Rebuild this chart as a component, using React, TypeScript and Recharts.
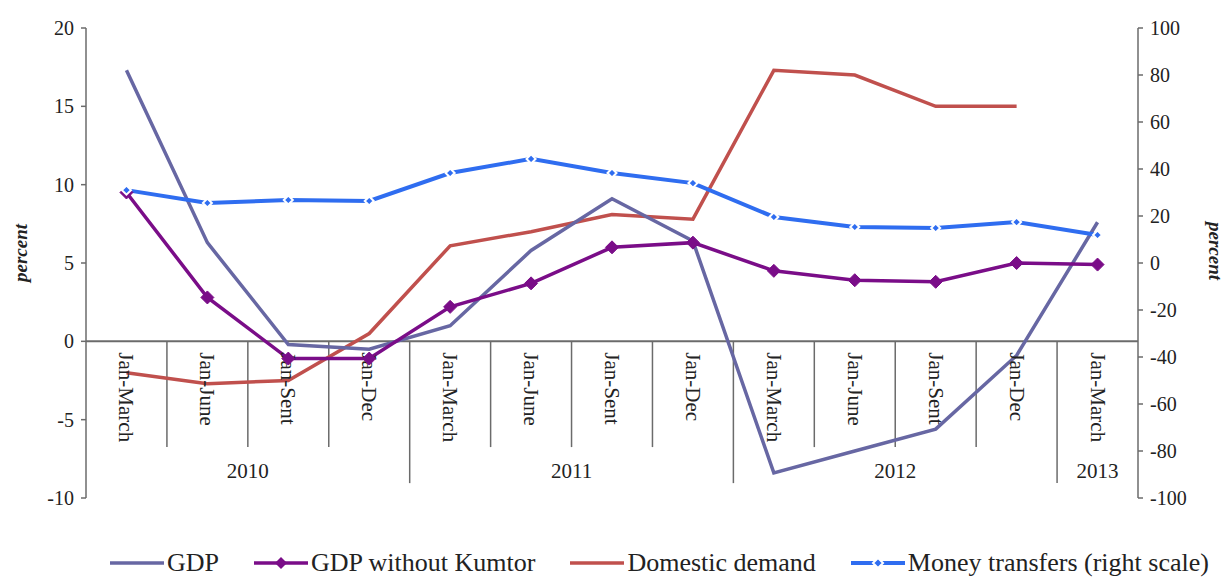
import React from "react";
import { LineChart, Line, XAxis, YAxis, ReferenceLine, ReferenceDot } from "recharts";

const periods = [
  "Jan-March", "Jan-June", "Jan-Sent", "Jan-Dec",
  "Jan-March", "Jan-June", "Jan-Sent", "Jan-Dec",
  "Jan-March", "Jan-June", "Jan-Sent", "Jan-Dec",
  "Jan-March",
];
const years = ["2010", "2011", "2012", "2013"];
const periodsPerYear = [4, 4, 4, 1];

const gdp = [17.3, 6.3, -0.2, -0.5, 1.0, 5.8, 9.1, 6.4, -8.4, -7.0, -5.6, -0.9, 7.6];
const gdpNoKumtor = [9.5, 2.8, -1.1, -1.1, 2.2, 3.7, 6.0, 6.3, 4.5, 3.9, 3.8, 5.0, 4.9];
const domesticDemand = [-2.0, -2.7, -2.5, 0.5, 6.1, 7.0, 8.1, 7.8, 17.3, 17.0, 15.0, 15.0, null];
const moneyTransfers = [31.0, 25.5, 26.8, 26.4, 38.3, 44.3, 38.3, 34.0, 19.6, 15.3, 14.9, 17.4, 11.9];

const leftTicks = [-10, -5, 0, 5, 10, 15, 20];
const rightTicks = [-100, -80, -60, -40, -20, 0, 20, 40, 60, 80, 100];

const rows = periods.map((p, i) => ({
  i,
  period: p,
  gdp: gdp[i],
  gdpNoKumtor: gdpNoKumtor[i],
  domestic: domesticDemand[i],
  money: moneyTransfers[i],
}));

const FONT = '"Liberation Serif", "Times New Roman", serif';
const AXIS = "#6b6b6b";
const C_GDP = "#6767a3";
const C_KUM = "#7a0d88";
const C_DOM = "#c0504d";
const C_MON = "#2f6df0";

// boundaries between periods, long ones where a year ends
const boundaries: { x: number; long: boolean }[] = [];
{
  const ends = new Set<number>();
  let acc = 0;
  periodsPerYear.forEach((n) => {
    acc += n;
    ends.add(acc);
  });
  for (let k = 1; k < periods.length; k++) boundaries.push({ x: k - 0.5, long: ends.has(k) });
}
const yearCenters: number[] = [];
{
  let start = 0;
  periodsPerYear.forEach((n) => {
    yearCenters.push(start + (n - 1) / 2);
    start += n;
  });
}

function catLabel(props: any) {
  const vb = props.viewBox || {};
  const cx = vb.x + (vb.width || 0) / 2;
  const cy = vb.y + (vb.height || 0) / 2;
  return (
    <text
      transform={`translate(${cx},${cy + 11}) rotate(90)`}
      dominantBaseline="central"
      textAnchor="start"
      fontFamily={FONT}
      fontSize={21}
      fill="#222"
    >
      {props.value}
    </text>
  );
}

function yearLabel(props: any) {
  const vb = props.viewBox || {};
  const cx = vb.x + (vb.width || 0) / 2;
  const cy = vb.y + (vb.height || 0) / 2;
  return (
    <text x={cx} y={cy} textAnchor="middle" dominantBaseline="central" fontFamily={FONT} fontSize={21} fill="#222">
      {props.value}
    </text>
  );
}

function percentLeft(props: any) {
  const vb = props.viewBox || {};
  const x = vb.x - 6;
  const y = vb.y + vb.height / 2 - 10;
  return (
    <text
      transform={`translate(${x},${y}) rotate(-90)`}
      textAnchor="middle"
      dominantBaseline="central"
      fontFamily={FONT}
      fontStyle="italic"
      fontWeight="bold"
      fontSize={19}
      fill="#222"
    >
      percent
    </text>
  );
}

function percentRight(props: any) {
  const vb = props.viewBox || {};
  const x = vb.x + 77;
  const y = vb.y + vb.height / 2 - 12;
  return (
    <text
      transform={`translate(${x},${y}) rotate(90)`}
      textAnchor="middle"
      dominantBaseline="central"
      fontFamily={FONT}
      fontStyle="italic"
      fontWeight="bold"
      fontSize={19}
      fill="#222"
    >
      percent
    </text>
  );
}

function bigDiamond(props: any) {
  const { cx, cy, index } = props;
  if (cx == null || cy == null) return <g key={`kd-${index}`} />;
  const s = 6.5;
  return (
    <path key={`kd-${index}`} d={`M${cx},${cy - s}L${cx + s},${cy}L${cx},${cy + s}L${cx - s},${cy}Z`} fill={C_KUM} stroke={C_KUM} strokeWidth={1} />
  );
}

function smallDiamond(props: any) {
  const { cx, cy, index } = props;
  if (cx == null || cy == null) return <g key={`md-${index}`} />;
  const s = 4.5;
  return (
    <path key={`md-${index}`} d={`M${cx},${cy - s}L${cx + s},${cy}L${cx},${cy + s}L${cx - s},${cy}Z`} fill={C_MON} stroke="#fff" strokeWidth={2} />
  );
}

const legendItems = [
  { name: "GDP", color: C_GDP, marker: "none", width: 3.5 },
  { name: "GDP without Kumtor", color: C_KUM, marker: "big", width: 3.5 },
  { name: "Domestic demand", color: C_DOM, marker: "none", width: 3.5 },
  { name: "Money transfers (right scale)", color: C_MON, marker: "small", width: 4 },
];

function LegendRow() {
  return (
    <div
      style={{
        position: "absolute",
        left: 110,
        top: 548,
        display: "flex",
        alignItems: "center",
        gap: 35,
        fontFamily: FONT,
        fontSize: 26,
        color: "#222",
        whiteSpace: "nowrap",
      }}
    >
      {legendItems.map((it) => (
        <div key={it.name} style={{ display: "flex", alignItems: "center" }}>
          <svg width={54} height={20} style={{ marginRight: 3 }}>
            <line x1={0} y1={10} x2={54} y2={10} stroke={it.color} strokeWidth={it.width} />
            {it.marker === "big" && <path d="M27,4L33,10L27,16L21,10Z" fill={it.color} />}
            {it.marker === "small" && <path d="M27,5L32,10L27,15L22,10Z" fill={it.color} stroke="#fff" strokeWidth={2} />}
          </svg>
          <span>{it.name}</span>
        </div>
      ))}
    </div>
  );
}

export default function App() {
  return (
    <div style={{ position: "absolute", left: 0, top: 0, width: 1227, height: 579, background: "#fff" }}>
      <LineChart width={1227} height={579} data={rows} margin={{ top: 28, right: 29, bottom: 81, left: 26 }}>
        <XAxis type="number" dataKey="i" domain={[-0.5, 12.5]} hide />
        <YAxis
          yAxisId="left"
          domain={[-10, 20]}
          ticks={leftTicks}
          width={60}
          tickSize={5}
          tickMargin={7}
          stroke={AXIS}
          strokeWidth={1.5}
          tick={{ fontFamily: FONT, fontSize: 20, fill: "#222" }}
          label={{ content: percentLeft }}
          allowDataOverflow
        />
        <YAxis
          yAxisId="right"
          orientation="right"
          domain={[-100, 100]}
          ticks={rightTicks}
          width={60}
          tickSize={5}
          tickMargin={7}
          stroke={AXIS}
          strokeWidth={1.5}
          tick={{ fontFamily: FONT, fontSize: 20, fill: "#222" }}
          label={{ content: percentRight }}
          allowDataOverflow
        />
        <ReferenceLine yAxisId="left" y={0} stroke={AXIS} strokeWidth={2} />
        {boundaries.map((b) => (
          <ReferenceLine
            key={`b-${b.x}`}
            yAxisId="left"
            segment={[
              { x: b.x, y: 0 },
              { x: b.x, y: b.long ? -9.05 : -6.75 },
            ]}
            stroke={AXIS}
            strokeWidth={1.5}
          />
        ))}
        {periods.map((p, i) => (
          <ReferenceDot
            key={`p-${i}`}
            yAxisId="left"
            x={i}
            y={0}
            r={1}
            fill="none"
            stroke="none"
            label={{ value: p, content: catLabel }}
          />
        ))}
        {years.map((y, k) => (
          <ReferenceDot
            key={`y-${y}`}
            yAxisId="left"
            x={yearCenters[k]}
            y={-8.3}
            r={1}
            fill="none"
            stroke="none"
            label={{ value: y, content: yearLabel }}
          />
        ))}
        <Line yAxisId="left" type="linear" dataKey="domestic" stroke={C_DOM} strokeWidth={3.5} dot={false} isAnimationActive={false} />
        <Line yAxisId="left" type="linear" dataKey="gdp" stroke={C_GDP} strokeWidth={3.5} dot={false} isAnimationActive={false} />
        <Line yAxisId="left" type="linear" dataKey="gdpNoKumtor" stroke={C_KUM} strokeWidth={3.5} dot={bigDiamond} isAnimationActive={false} />
        <Line yAxisId="right" type="linear" dataKey="money" stroke={C_MON} strokeWidth={4} dot={smallDiamond} isAnimationActive={false} />
      </LineChart>
      <LegendRow />
    </div>
  );
}
